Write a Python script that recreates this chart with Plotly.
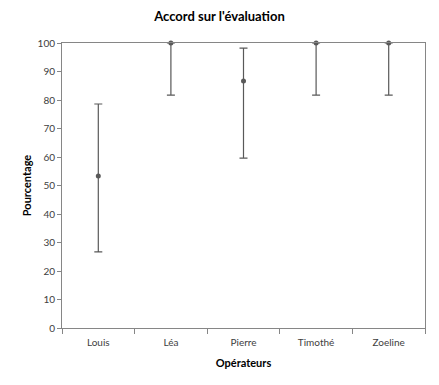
import plotly.graph_objects as go

operators = ["Louis", "Léa", "Pierre", "Timothé", "Zoeline"]
agreement = [53.3, 100, 86.7, 100, 100]
upper_ci = [78.6, 100, 98.2, 100, 100]
lower_ci = [26.7, 81.7, 59.6, 81.7, 81.7]
y_ticks = [0, 10, 20, 30, 40, 50, 60, 70, 80, 90, 100]

err_plus = [u - a for u, a in zip(upper_ci, agreement)]
err_minus = [a - l for a, l in zip(agreement, lower_ci)]

FONT = "Lato, 'Open Sans', sans-serif"
fig = go.Figure()
fig.add_trace(go.Scatter(
    x=operators, y=agreement, mode="markers",
    marker=dict(color="#595959", size=5),
    error_y=dict(type="data", symmetric=False, array=err_plus, arrayminus=err_minus,
                 color="#595959", thickness=1.2, width=4),
    cliponaxis=False, showlegend=False,
))
fig.update_layout(
    width=439, height=385, autosize=False,
    margin=dict(l=62, r=14, t=43, b=57, autoexpand=False),
    paper_bgcolor="white", plot_bgcolor="white",
    font=dict(family=FONT, size=10, color="#404040"),
    title=dict(text="<b>Accord sur l'évaluation</b>", x=0.5, xanchor="center",
               y=1 - 16 / 385, yanchor="middle", font=dict(size=13, color="#000000"),
               automargin=False),
    xaxis=dict(
        title=dict(text="<b>Opérateurs</b>", font=dict(size=11, color="#000000"), standoff=12),
        range=[-0.5, len(operators) - 0.5],
        showline=True, linecolor="#868686", linewidth=1, mirror=True,
        ticks="outside", tickson="boundaries", ticklen=5, tickcolor="#868686",
        ticklabelstandoff=5,
        showgrid=False, zeroline=False, fixedrange=True, automargin=False,
    ),
    yaxis=dict(
        title=dict(text="<b>Pourcentage</b>", font=dict(size=11, color="#000000"), standoff=3),
        range=[0, 100], tickvals=y_ticks,
        showline=True, linecolor="#868686", linewidth=1, mirror=True,
        ticks="outside", ticklen=4, tickcolor="#868686",
        showgrid=False, zeroline=False, fixedrange=True, automargin=False,
    ),
)
fig.write_html("out.html", post_script="document.body.style.margin='0';",
               config={"displayModeBar": False})
